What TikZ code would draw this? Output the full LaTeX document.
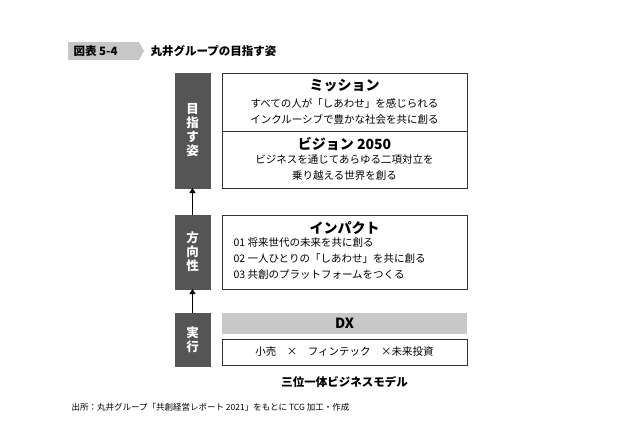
\documentclass[tikz,border=0pt]{standalone}
\usepackage{fontspec}
\newfontfamily\jp{Noto Sans CJK JP}
\usetikzlibrary{arrows.meta}
\definecolor{bar}{HTML}{555555}
\definecolor{dxg}{HTML}{C8C8C8}
\begin{document}
\begin{tikzpicture}[x=1pt,y=-1pt,
  barbox/.style={text=white,font=\jp\bfseries\fontsize{12.5}{14}\selectfont,align=center},
  wbox/.style={draw=black!80,line width=1pt},
  body/.style={font=\jp\fontsize{10.5}{16}\selectfont,align=center},
  head/.style={font=\jp\bfseries\fontsize{14}{16}\selectfont},
  arr/.style={-{Triangle[length=5pt,width=6pt]},line width=1pt}]
\useasboundingbox (0,0) rectangle (636,445);
% title
\fill[black!22] (68,42) -- (139,42) -- (144,51) -- (139,60) -- (68,60) -- cycle;
\node[font=\jp\bfseries\fontsize{11.5}{13}\selectfont,anchor=west] (tl) at (70,51) {図表 5-4};
\node[font=\jp\bfseries\fontsize{11.5}{13}\selectfont,anchor=west] (tt) at (147,51) {丸井グループの目指す姿};
% bars
\draw[fill=bar,draw=bar] (175,73) rectangle (210,188);
\node[barbox] (b1) at (192.5,130) {目\\指\\す\\姿};
\draw[fill=bar,draw=bar] (175,215) rectangle (210,289);
\node[barbox] (b2) at (192.5,252) {方\\向\\性};
\draw[fill=bar,draw=bar] (175,313) rectangle (210,366);
\node[barbox] (b3) at (192.5,340) {実\\行};
\coordinate (b1b) at (192.5,188);
\coordinate (b2t) at (192.5,215);
\coordinate (b2b) at (192.5,289);
\coordinate (b3t) at (192.5,313);
\draw[arr] (b2t) -- (b1b);
\draw[arr] (b3t) -- (b2b);
% mission / vision
\draw[wbox] (222,73) rectangle (467,188);
\draw[wbox] (222,131) -- (467,131);
\node[head] (m) at (344.5,86) {ミッション};
\node[body] (mt) at (344.5,111) {すべての人が「しあわせ」を感じられる\\インクルーシブで豊かな社会を共に創る};
\node[head] (v) at (344.5,144) {ビジョン 2050};
\node[body] (vt) at (344.5,168) {ビジネスを通じてあらゆる二項対立を\\乗り越える世界を創る};
% impact
\draw[wbox] (222,215) rectangle (467,289);
\node[head] (i) at (344.5,228) {インパクト};
\node[body,align=left,anchor=west] (it) at (230,259) {01 将来世代の未来を共に創る\\02 一人ひとりの「しあわせ」を共に創る\\03 共創のプラットフォームをつくる};
% DX
\fill[dxg] (222,313) rectangle (467,334);
\node[head] (dx) at (344.5,323.5) {DX};
\draw[wbox] (222,339) rectangle (467,365);
\node[body] (r) at (344.5,352) {小売\quad ×\quad フィンテック\quad ×未来投資};
\node[font=\jp\bfseries\fontsize{11.5}{13}\selectfont] (tri) at (344.5,382) {三位一体ビジネスモデル};
\node[font=\jp\fontsize{8.5}{10}\selectfont,anchor=west] (src) at (68,407) {出所：丸井グループ「共創経営レポート 2021」をもとに TCG 加工・作成};
\end{tikzpicture}
\end{document}
